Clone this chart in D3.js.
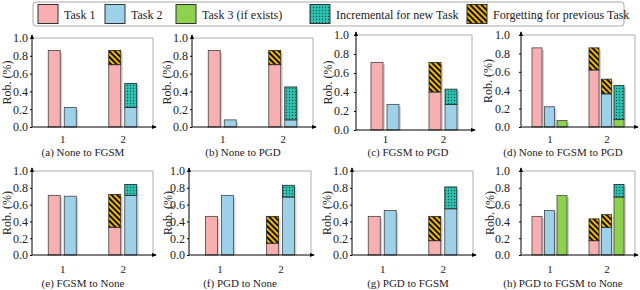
<!DOCTYPE html>
<html><head><meta charset="utf-8">
<script src="https://cdn.jsdelivr.net/npm/d3@7"></script>
<style>body{margin:0;background:#fff}svg{display:block;font-family:"Liberation Serif","Times New Roman",serif}</style>
</head><body><svg id="c" width="640" height="290"></svg>
<script>
// ---- data ----
const categories = ["1", "2"];
const yTicks = [0, 0.2, 0.4, 0.6, 0.8, 1.0];
const captions = ["(a) None to FGSM", "(b) None to PGD", "(c) FGSM to PGD", "(d) None to FGSM to PGD",
                  "(e) FGSM to None", "(f) PGD to None", "(g) PGD to FGSM", "(h) PGD to FGSM to None"];
const legendLabels = ["Task 1", "Task 2", "Task 3 (if exists)", "Incremental for new Task", "Forgetting for previous Task"];
// base robustness at stage 1 and stage 2, per panel
const task1 = [[0.86, 0.70], [0.86, 0.70], [0.71, 0.40], [0.86, 0.62], [0.71, 0.33], [0.46, 0.14], [0.46, 0.17], [0.46, 0.17]];
const task2 = [[0.22, 0.22], [0.08, 0.08], [0.27, 0.27], [0.22, 0.36], [0.70, 0.71], [0.71, 0.69], [0.53, 0.55], [0.53, 0.33]];
const task3 = [null, null, null, [0.07, 0.08], null, null, null, [0.71, 0.69]];
// top of the stage-2 bar (forgetting for previous tasks, incremental for the newest task)
const task1Top = [0.86, 0.86, 0.71, 0.86, 0.72, 0.46, 0.46, 0.43];
const task2Top = [0.49, 0.45, 0.43, 0.52, 0.84, 0.83, 0.81, 0.48];
const task3Top = [null, null, null, 0.45, null, null, null, 0.84];

// ---- layout ----
const layouts = [
  {l:32, t:38, b:127, r:153, tp:2, yl:-25, cx:83, cy:156, ly:135},
  {l:192,t:38, b:127, r:313, tp:2, yl:-25, cx:243, cy:156, ly:135},
  {l:356,t:35, b:130, r:472, tp:5, yl:-28, cx:408, cy:156, ly:135},
  {l:521,t:35, b:127, r:635, tp:9, yl:-33, cx:563, cy:156, ly:135},
  {l:32, t:171,b:255, r:153, tp:2, yl:-25, cx:83, cy:287, ly:265},
  {l:189,t:171,b:255, r:311, tp:2, yl:-21, cx:240, cy:287, ly:265},
  {l:352,t:171,b:255, r:473, tp:2, yl:-25, cx:408, cy:287, ly:265},
  {l:521,t:171,b:255, r:635, tp:9, yl:-31, cx:563, cy:287, ly:265}
];
const colors = ["#f8afaf", "#9dd1ea", "#8ed14f"];
const svg = d3.select("#c");
const defs = svg.append("defs");
const pf = defs.append("pattern").attr("id","forget").attr("patternUnits","userSpaceOnUse")
  .attr("width",4).attr("height",4).attr("patternTransform","rotate(-45)");
pf.append("rect").attr("width",4).attr("height",4).attr("fill","#f5b800");
pf.append("rect").attr("width",2).attr("height",4).attr("fill","#111");
const pi = defs.append("pattern").attr("id","incr").attr("patternUnits","userSpaceOnUse")
  .attr("width",3).attr("height",3);
pi.append("rect").attr("width",3).attr("height",3).attr("fill","#2ec1b1");
pi.append("circle").attr("cx",1.5).attr("cy",1.5).attr("r",0.7).attr("fill","#0b5a52");
const ar = defs.append("marker").attr("id","arr").attr("viewBox","0 0 6 6").attr("refX",5).attr("refY",3)
  .attr("markerWidth",5).attr("markerHeight",5).attr("orient","auto");
ar.append("path").attr("d","M0,0.5L6,3L0,5.5Z").attr("fill","#000");

// ---- legend ----
const lg = svg.append("g");
lg.append("rect").attr("x",33).attr("y",2).attr("width",591).attr("height",24).attr("rx",3)
  .attr("fill","#fff").attr("stroke","#aaa");
const legX = [38, 105, 176, 310, 467];
const legFill = [colors[0], colors[1], colors[2], "url(#incr)", "url(#forget)"];
legendLabels.forEach((t,i)=>{
  lg.append("rect").attr("x",legX[i]).attr("y",4.5).attr("width",20).attr("height",19)
    .attr("fill",legFill[i]).attr("stroke","#333").attr("stroke-width",1);
  lg.append("text").attr("x",legX[i]+26).attr("y",18.5).attr("font-size",12).attr("fill","#222").text(t);
});

// ---- panels ----
captions.forEach((cap,p)=>{
  const L = layouts[p];
  const g = svg.append("g");
  const y = d3.scaleLinear().domain([0,1]).range([L.b, L.t]);
  const x = d3.scalePoint().domain(categories).range([L.l, L.r]).padding(0.5);
  const tasks = task3[p] ? [0,1,2] : [0,1];
  const grpW = tasks.length === 3 ? 35 : 28;
  const xi = d3.scaleBand().domain(tasks).range([-grpW/2, grpW/2]).paddingInner(tasks.length===3?0.2:0.25);
  // frame
  g.append("path").attr("d",`M${L.l},${y(1)}H${L.r}V${L.b}`).attr("fill","none").attr("stroke","#999").attr("stroke-width",0.8);
  const bases = [task1[p], task2[p], task3[p]];
  const tops = [task1Top[p], task2Top[p], task3Top[p]];
  const newest = tasks[tasks.length-1];
  categories.forEach((c,ci)=>{
    tasks.forEach(k=>{
      const bx = x(c) + xi(k), bw = xi.bandwidth();
      const v = bases[k][ci];
      const top = ci === 1 ? Math.max(v, tops[k]) : v;
      // shadow
      g.append("rect").attr("x",bx+2).attr("y",y(top)+2).attr("width",bw).attr("height",Math.max(0,y(0)-y(top)-2))
        .attr("fill","#aaa").attr("opacity",0.5);
      g.append("rect").attr("x",bx).attr("y",y(v)).attr("width",bw).attr("height",y(0)-y(v))
        .attr("fill",colors[k]).attr("stroke","#444").attr("stroke-width",0.8);
      if (ci === 1 && tops[k] > v) {
        g.append("rect").attr("x",bx).attr("y",y(tops[k])).attr("width",bw).attr("height",y(v)-y(tops[k]))
          .attr("fill", k === newest ? "url(#incr)" : "url(#forget)").attr("stroke","#222").attr("stroke-width",0.8);
      }
    });
  });
  // axes
  const ya = d3.axisLeft(y).tickValues(yTicks).tickFormat(d3.format(".1f")).tickSize(2).tickPadding(L.tp);
  const yg = g.append("g").attr("transform",`translate(${L.l},0)`).call(ya);
  yg.select(".domain").remove();
  yg.selectAll("text").attr("font-size",12).attr("font-family","Liberation Serif").attr("fill","#222");
  g.append("line").attr("x1",L.l).attr("x2",L.l).attr("y1",L.b).attr("y2",L.t-3).attr("stroke","#000").attr("marker-end","url(#arr)");
  const xa = d3.axisBottom(x).tickSize(0).tickPadding(L.ly - L.b);
  const xg = g.append("g").attr("transform",`translate(0,${L.b})`).call(xa);
  xg.select(".domain").remove();
  xg.selectAll("text").attr("font-size",11).attr("font-family","Liberation Serif").attr("fill","#222");
  g.append("line").attr("x1",L.l).attr("x2",L.r+3).attr("y1",L.b).attr("y2",L.b).attr("stroke","#000").attr("marker-end","url(#arr)");
  g.append("text").attr("transform",`translate(${L.l+L.yl},${(L.t+L.b)/2}) rotate(-90)`)
    .attr("text-anchor","middle").attr("dy","0.35em").attr("font-size",12).attr("fill","#222").text("Rob. (%)");
  g.append("text").attr("x",L.cx).attr("y",L.cy).attr("text-anchor","middle").attr("font-size",11).attr("fill","#222").text(cap);
});
</script></body></html>
